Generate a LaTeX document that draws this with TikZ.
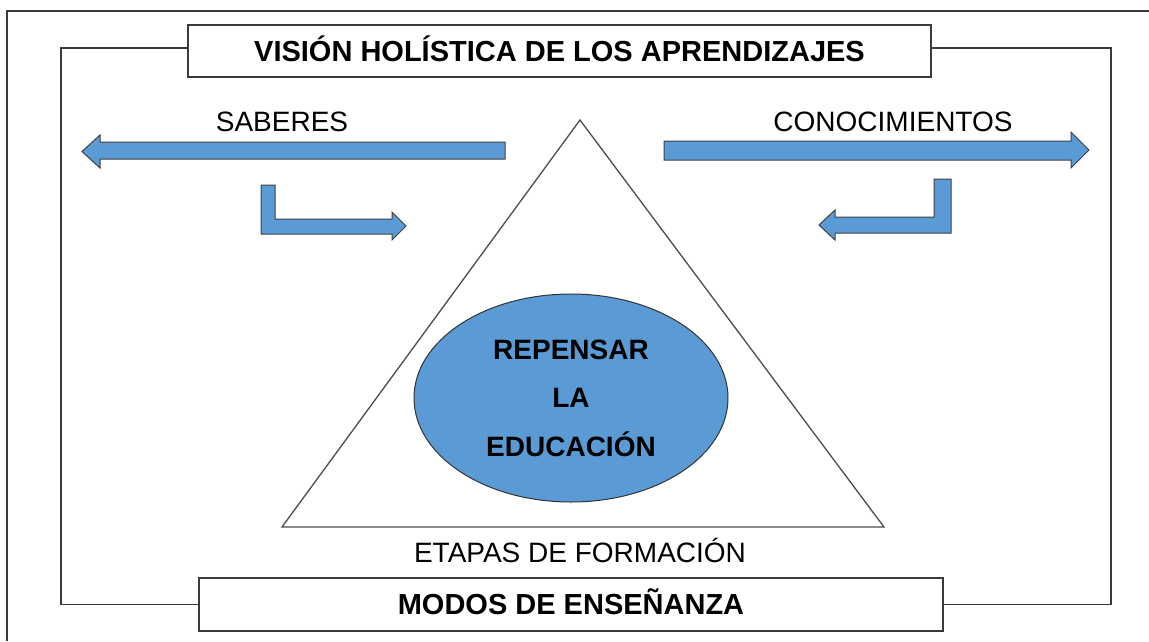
\documentclass[tikz,border=0pt]{standalone}
\usepackage{fontspec}
\setmainfont{Liberation Sans}
\usetikzlibrary{shapes.geometric}
\definecolor{arrowblue}{HTML}{5B9BD5}
\definecolor{framegray}{HTML}{3A3A3A}
\tikzset{
  frame/.style={draw=framegray,line width=1.8pt},
  titlebox/.style={draw=framegray,line width=1.6pt,fill=white,inner sep=0pt,
    text height=20pt,text depth=0pt,font=\fontsize{29}{35}\selectfont\bfseries},
  plainlabel/.style={inner sep=0pt,text height=20pt,text depth=0pt,font=\fontsize{28}{34}\selectfont},
  blockarrow/.style={draw=black!75,line width=1pt,fill=arrowblue,line join=miter},
  tri/.style={draw=black!70,line width=1.3pt},
  oval/.style={ellipse,draw=black!80,line width=1pt,fill=arrowblue,inner sep=0pt,
    align=center,font=\fontsize{28}{48.5}\selectfont\bfseries}
}
\begin{document}
\begin{tikzpicture}[x=1pt,y=-1pt]
\useasboundingbox (0,0) rectangle (1149,641);
% outer frame (partial)
\draw[frame] (1149,11) -- (7,11) -- (7,641);
% title boxes
\node[titlebox,minimum width=743pt,minimum height=52pt] (top) at (559.5,51) {VISIÓN HOLÍSTICA DE LOS APRENDIZAJES};
\node[titlebox,minimum width=744pt,minimum height=53pt] (bot) at (571,604.5) {MODOS DE ENSEÑANZA};
% loop connectors
\coordinate (lc) at (61,604.5);
\coordinate (rc) at (1111,604.5);
\draw[frame] ([yshift=3pt]top.west) -| (lc) -- (bot.west);
\draw[frame] ([yshift=3pt]top.east) -| (rc) -- (bot.east);
% labels
\node[plainlabel] (sab) at (282,121) {SABERES};
\node[plainlabel] (con) at (893,121) {CONOCIMIENTOS};
\node[plainlabel] (eta) at (580,552) {ETAPAS DE FORMACIÓN};
% long arrows
\draw[blockarrow] (505,142) -- (100,142) -- (100,135) -- (82,151.5) -- (100,168) -- (100,159) -- (505,159) -- cycle;
\draw[blockarrow] (664,141) -- (1071,141) -- (1071,132) -- (1089,150) -- (1071,168) -- (1071,160) -- (664,160) -- cycle;
% bent arrows
\draw[blockarrow] (261,185) -- (275,185) -- (275,219) -- (392,219) -- (392,212) -- (406,226) -- (392,240) -- (392,234) -- (261,234) -- cycle;
\draw[blockarrow] (951,179) -- (934,179) -- (934,217) -- (835,217) -- (835,210) -- (819,225) -- (835,240) -- (835,233) -- (951,233) -- cycle;
% triangle
\draw[tri] (580,120) -- (282,527) -- (884,527) -- cycle;
% central ellipse
\node[oval,minimum width=314pt,minimum height=208pt] (core) at (571,398) {REPENSAR\\LA\\EDUCACIÓN};
\end{tikzpicture}
\end{document}
